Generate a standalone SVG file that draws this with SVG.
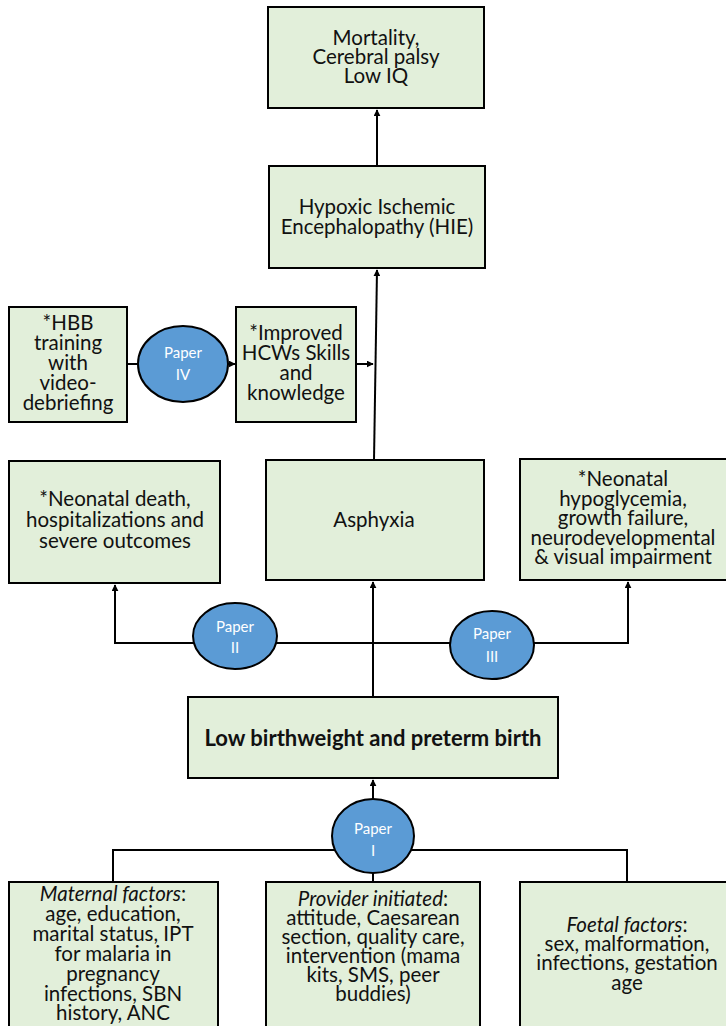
<svg xmlns="http://www.w3.org/2000/svg" width="726" height="1026" viewBox="0 0 726 1026">
<defs>
<marker id="ah" viewBox="0 0 10 10" refX="9" refY="5" markerWidth="7" markerHeight="7" markerUnits="userSpaceOnUse" orient="auto">
<path d="M0,0 L10,5 L0,10 z" fill="#000"/>
</marker>
<style>
.box{fill:#e2efda;stroke:#000;stroke-width:2}
.el{fill:#5b9bd5;stroke:#000;stroke-width:2}
.t{font-family:Lato,"Liberation Sans",sans-serif;font-size:20.5px;fill:#111;text-anchor:middle}
.p{font-family:Lato,"Liberation Sans",sans-serif;font-size:15px;fill:#fff;text-anchor:middle}
.c{fill:none;stroke:#000;stroke-width:2}
</style>
</defs>
<rect width="726" height="1026" fill="#fff"/>
<g id="connectors">
<line class="c" x1="377" y1="166" x2="377" y2="110" marker-end="url(#ah)"/>
<line class="c" x1="374" y1="460" x2="377" y2="270" marker-end="url(#ah)"/>
<line class="c" x1="127" y1="364" x2="139" y2="364"/>
<line class="c" x1="228" y1="364" x2="235" y2="364" marker-end="url(#ah)"/>
<line class="c" x1="356" y1="364" x2="373" y2="364" marker-end="url(#ah)"/>
<line class="c" x1="373" y1="697" x2="373" y2="582" marker-end="url(#ah)"/>
<polyline class="c" points="373,643 115,643 115,585" marker-end="url(#ah)"/>
<polyline class="c" points="373,643 628,643 628,582" marker-end="url(#ah)"/>
<line class="c" x1="373" y1="882" x2="373" y2="780" marker-end="url(#ah)"/>
<polyline class="c" points="113,882 113,850 627,850 627,882"/>
</g>
<g id="mortality">
<rect class="box" x="268" y="7" width="216" height="101"/>
<text class="t" x="376" y="45">Mortality,</text>
<text class="t" x="376" y="64">Cerebral palsy</text>
<text class="t" x="376" y="83">Low IQ</text>
</g>
<g id="hie">
<rect class="box" x="269" y="166" width="216" height="102"/>
<text class="t" x="377" y="214">Hypoxic Ischemic</text>
<text class="t" x="377" y="234">Encephalopathy (HIE)</text>
</g>
<g id="hbb">
<rect class="box" x="9" y="307" width="118" height="115"/>
<text class="t" x="68" y="330">*HBB</text>
<text class="t" x="68" y="350">training</text>
<text class="t" x="68" y="370">with</text>
<text class="t" x="68" y="390">video-</text>
<text class="t" x="68" y="410">debriefing</text>
</g>
<g id="paper4">
<ellipse class="el" cx="183" cy="364" rx="45" ry="38"/>
<text class="p" x="183" y="358">Paper</text>
<text class="p" x="183" y="380">IV</text>
</g>
<g id="improved">
<rect class="box" x="236" y="307" width="120" height="115"/>
<text class="t" x="296" y="340">*Improved</text>
<text class="t" x="296" y="360">HCWs Skills</text>
<text class="t" x="296" y="380">and</text>
<text class="t" x="296" y="400">knowledge</text>
</g>
<g id="neonataldeath">
<rect class="box" x="9" y="461" width="211" height="122"/>
<text class="t" x="115" y="506">*Neonatal death,</text>
<text class="t" x="115" y="527">hospitalizations and</text>
<text class="t" x="115" y="548">severe outcomes</text>
</g>
<g id="asphyxia">
<rect class="box" x="266" y="460" width="218" height="120"/>
<text class="t" x="374" y="527">Asphyxia</text>
</g>
<g id="hypoglycemia">
<rect class="box" x="520" y="459" width="212" height="121"/>
<text class="t" x="623" y="486">*Neonatal</text>
<text class="t" x="623" y="506">hypoglycemia,</text>
<text class="t" x="623" y="525">growth failure,</text>
<text class="t" x="623" y="545">neurodevelopmental</text>
<text class="t" x="623" y="564">&amp; visual impairment</text>
</g>
<g id="paper2">
<ellipse class="el" cx="235" cy="636" rx="42" ry="33"/>
<text class="p" x="235" y="632">Paper</text>
<text class="p" x="235" y="653">II</text>
</g>
<g id="paper3">
<ellipse class="el" cx="492" cy="645" rx="42" ry="34"/>
<text class="p" x="492" y="639">Paper</text>
<text class="p" x="492" y="662">III</text>
</g>
<g id="lbw">
<rect class="box" x="188" y="697" width="370" height="81"/>
<text class="t" x="373" y="746" style="font-weight:bold;font-size:22px">Low birthweight and preterm birth</text>
</g>
<g id="paper1">
<ellipse class="el" cx="373" cy="836" rx="41" ry="37"/>
<text class="p" x="373" y="834">Paper</text>
<text class="p" x="373" y="856">I</text>
</g>
<g id="maternal">
<rect class="box" x="9" y="882" width="209" height="150"/>
<text class="t" x="113" y="901"><tspan font-style="italic">Maternal factors</tspan>:</text>
<text class="t" x="113" y="921">age, education,</text>
<text class="t" x="113" y="941">marital status, IPT</text>
<text class="t" x="113" y="961">for malaria in</text>
<text class="t" x="113" y="981">pregnancy</text>
<text class="t" x="113" y="1001">infections, SBN</text>
<text class="t" x="113" y="1020">history, ANC</text>
</g>
<g id="provider">
<rect class="box" x="266" y="882" width="214" height="150"/>
<text class="t" x="373" y="906"><tspan font-style="italic">Provider initiated</tspan>:</text>
<text class="t" x="373" y="925">attitude, Caesarean</text>
<text class="t" x="373" y="944">section, quality care,</text>
<text class="t" x="373" y="963">intervention (mama</text>
<text class="t" x="373" y="982">kits, SMS, peer</text>
<text class="t" x="373" y="1001">buddies)</text>
</g>
<g id="foetal">
<rect class="box" x="520" y="882" width="212" height="150"/>
<text class="t" x="627" y="932"><tspan font-style="italic">Foetal factors</tspan>:</text>
<text class="t" x="627" y="951">sex, malformation,</text>
<text class="t" x="627" y="970">infections, gestation</text>
<text class="t" x="627" y="990">age</text>
</g>
</svg>
